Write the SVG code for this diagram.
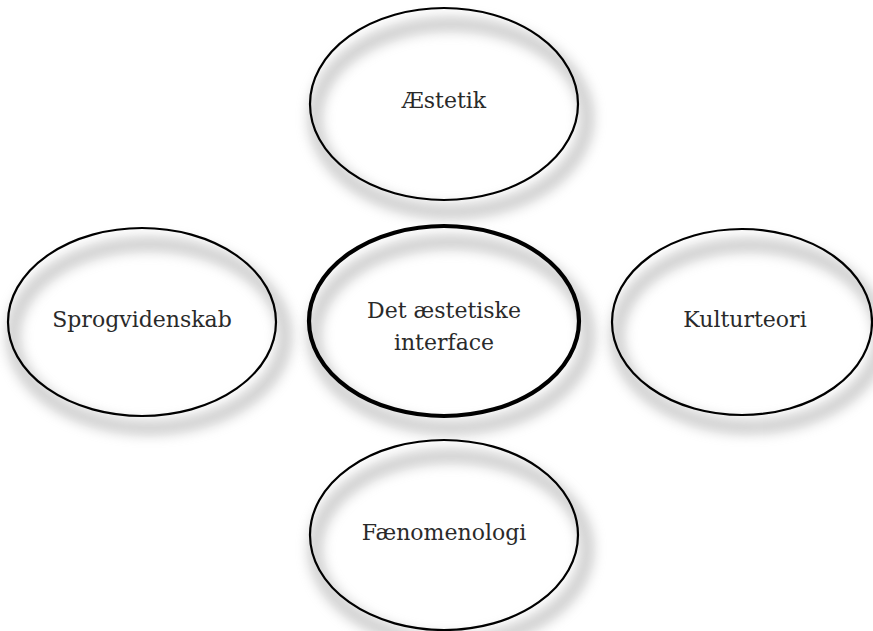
<svg xmlns="http://www.w3.org/2000/svg" width="873" height="631" viewBox="0 0 873 631">
  <style>
    .fill { fill: #ffffff; stroke: none; }
    .haze { fill: none; stroke: #8a8a8a; stroke-width: 12; opacity: 0.5; filter: url(#soft); }
    .rim { fill: none; stroke: #000000; stroke-width: 2.2; }
    .rim.bold { stroke-width: 4.2; }
    .label { font-family: "DejaVu Serif", "Liberation Serif", serif; font-size: 22px; fill: #2a2a2a; text-anchor: middle; }
  </style>
  <defs>
    <filter id="soft" x="-20%" y="-25%" width="140%" height="150%">
      <feGaussianBlur stdDeviation="6.5"/>
    </filter>
  </defs>
  <rect width="873" height="631" fill="#ffffff"/>

  <g id="aestetik">
    <ellipse class="fill" cx="444" cy="104" rx="134" ry="96"/>
    <ellipse class="haze" cx="451" cy="118" rx="136" ry="94"/>
    <ellipse class="rim" cx="444" cy="104" rx="134" ry="96"/>
    <text class="label" x="444" y="108">Æstetik</text>
  </g>

  <g id="sprogvidenskab">
    <ellipse class="fill" cx="142" cy="322" rx="134" ry="94"/>
    <ellipse class="haze" cx="149" cy="336" rx="136" ry="92"/>
    <ellipse class="rim" cx="142" cy="322" rx="134" ry="94"/>
    <text class="label" x="142" y="327">Sprogvidenskab</text>
  </g>

  <g id="interface">
    <ellipse class="fill" cx="444" cy="321" rx="135" ry="95"/>
    <ellipse class="haze" cx="451" cy="335" rx="137" ry="93"/>
    <ellipse class="rim bold" cx="444" cy="321" rx="135" ry="95"/>
    <text class="label" x="444" y="318">Det æstetiske</text>
    <text class="label" x="444" y="350">interface</text>
  </g>

  <g id="kulturteori">
    <ellipse class="fill" cx="742" cy="322" rx="130" ry="93"/>
    <ellipse class="haze" cx="749" cy="336" rx="132" ry="91"/>
    <ellipse class="rim" cx="742" cy="322" rx="130" ry="93"/>
    <text class="label" x="745" y="327">Kulturteori</text>
  </g>

  <g id="faenomenologi">
    <ellipse class="fill" cx="444" cy="535" rx="134" ry="95"/>
    <ellipse class="haze" cx="451" cy="549" rx="136" ry="93"/>
    <ellipse class="rim" cx="444" cy="535" rx="134" ry="95"/>
    <text class="label" x="444" y="540">Fænomenologi</text>
  </g>

  <g id="connectors"/>
</svg>
